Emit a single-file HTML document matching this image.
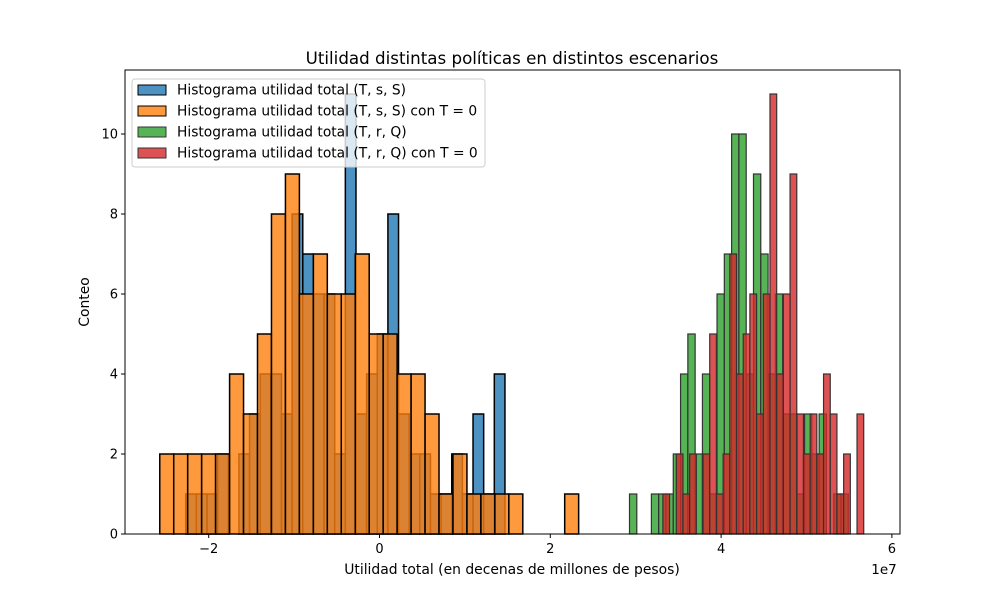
<!DOCTYPE html>
<html><head><meta charset="utf-8"><style>
html,body{margin:0;padding:0;background:#fff}
svg{display:block;font-family:"DejaVu Sans","Liberation Sans",sans-serif}
</style></head><body>
<svg id="chart" width="1000" height="600" viewBox="0 0 1000 600" xmlns="http://www.w3.org/2000/svg">
<rect width="1000" height="600" fill="#fff"/>
<text x="512" y="64" text-anchor="middle" font-size="16.7">Utilidad distintas políticas en distintos escenarios</text>
<g id="bars"></g>
<g id="axes"></g>
<text x="512" y="574" text-anchor="middle" font-size="13.9">Utilidad total (en decenas de millones de pesos)</text>
<text x="884" y="574" text-anchor="middle" font-size="13.5">1e7</text>
<text x="89" y="302" text-anchor="middle" font-size="13.9" transform="rotate(-90 89 302)">Conteo</text>
<g id="legend"></g>
</svg>
<script>
// data (x in units of 1e7)
const blueStart = -2.269, blueWidth = 0.1246;
const blueCounts = [1,1,1,2,0,2,3,4,4,3,8,7,6,6,2,11,3,4,5,8,3,2,2,1,1,2,1,3,1,4];
const orangeStart = -2.573, orangeWidth = 0.1635;
const orangeCounts = [2,2,2,2,2,4,3,5,8,9,6,7,6,6,7,5,5,4,4,3,1,2,1,1,1,1,0,0,0,1];
const greenStart = 2.9275, greenWidth = 0.0854;
const greenCounts = [1,0,0,1,1,1,2,4,5,2,4,1,6,7,10,10,4,9,7,4,6,3,3,1,3,2,3,0,1,1];
const redStart = 3.318, redWidth = 0.0784;
const redCounts = [1,0,2,1,2,0,2,5,1,2,7,4,5,6,3,6,11,4,6,9,3,2,3,2,4,3,1,2,0,3];
const xTicks = [-2,0,2,4,6];
const xTickLabels = ["\u22122","0","2","4","6"];
const yTicks = [0,2,4,6,8,10];
const legendLabels = ["Histograma utilidad total (T, s, S)","Histograma utilidad total (T, s, S) con T = 0","Histograma utilidad total (T, r, Q)","Histograma utilidad total (T, r, Q) con T = 0"];

const NS="http://www.w3.org/2000/svg";
const L=125,R=900,T=70,B=534;
const xs=v=>379.5+v*85.4;
const ys=c=>B-c*40;
function mk(tag,attrs,parent){const e=document.createElementNS(NS,tag);for(const k in attrs)e.setAttribute(k,attrs[k]);parent.appendChild(e);return e;}
const bars=document.getElementById('bars');
const series=[
 {name:'blue',start:blueStart,w:blueWidth,counts:blueCounts,fill:'#1f77b4',stroke:'#000',sw:1.5},
 {name:'orange',start:orangeStart,w:orangeWidth,counts:orangeCounts,fill:'#ff7f0e',stroke:'#000',sw:1.5},
 {name:'green',start:greenStart,w:greenWidth,counts:greenCounts,fill:'#2ca02c',stroke:'#333',sw:1.2},
 {name:'red',start:redStart,w:redWidth,counts:redCounts,fill:'#d62728',stroke:'#333',sw:1.2}
];
series.forEach(s=>{
 const g=mk('g',{},bars);
 
 
 s.counts.forEach((c,i)=>{
  if(c<=0)return;
  const x0=xs(s.start+i*s.w), x1=xs(s.start+(i+1)*s.w);
  const r=mk('rect',{x:x0,y:ys(c),width:x1-x0,height:ys(0)-ys(c),fill:s.fill,'fill-opacity':0.8,stroke:s.stroke,'stroke-width':s.sw},g);
  
  
 });
});
const ax=document.getElementById('axes');
const frame=mk('rect',{x:L,y:T,width:R-L,height:B-T,fill:'none',stroke:'#000','stroke-width':1},ax);


xTicks.forEach((v,i)=>{
 const x=xs(v);
 const t=mk('line',{x1:x,x2:x,y1:B,y2:B+4,stroke:'#000'},ax);
 
 
 const lb=mk('text',{x:x,y:B+19,'text-anchor':'middle','font-size':13},ax);
 lb.textContent=xTickLabels[i];
 
 
});
yTicks.forEach(v=>{
 const y=ys(v);
 const t=mk('line',{x1:L-4,x2:L,y1:y,y2:y,stroke:'#000'},ax);
 
 
 const lb=mk('text',{x:L-7,y:y+4.5,'text-anchor':'end','font-size':13},ax);
 lb.textContent=String(v);
 
 
});
const lg=document.getElementById('legend');
const box=mk('rect',{x:132,y:79,width:353,height:88,rx:3,fill:'#fff','fill-opacity':0.8,stroke:'#ccc','stroke-width':1},lg);


legendLabels.forEach((txt,i)=>{
 const y=90+i*21;
 const s=series[i];
 const p=mk('rect',{x:138,y:y-5,width:28,height:10,fill:s.fill,'fill-opacity':0.8,stroke:s.stroke,'stroke-width':1},lg);
 
 
 const t=mk('text',{x:177,y:y+4.5,'font-size':13.8},lg);
 t.textContent=txt;
 
 
});
</script>
</body></html>
